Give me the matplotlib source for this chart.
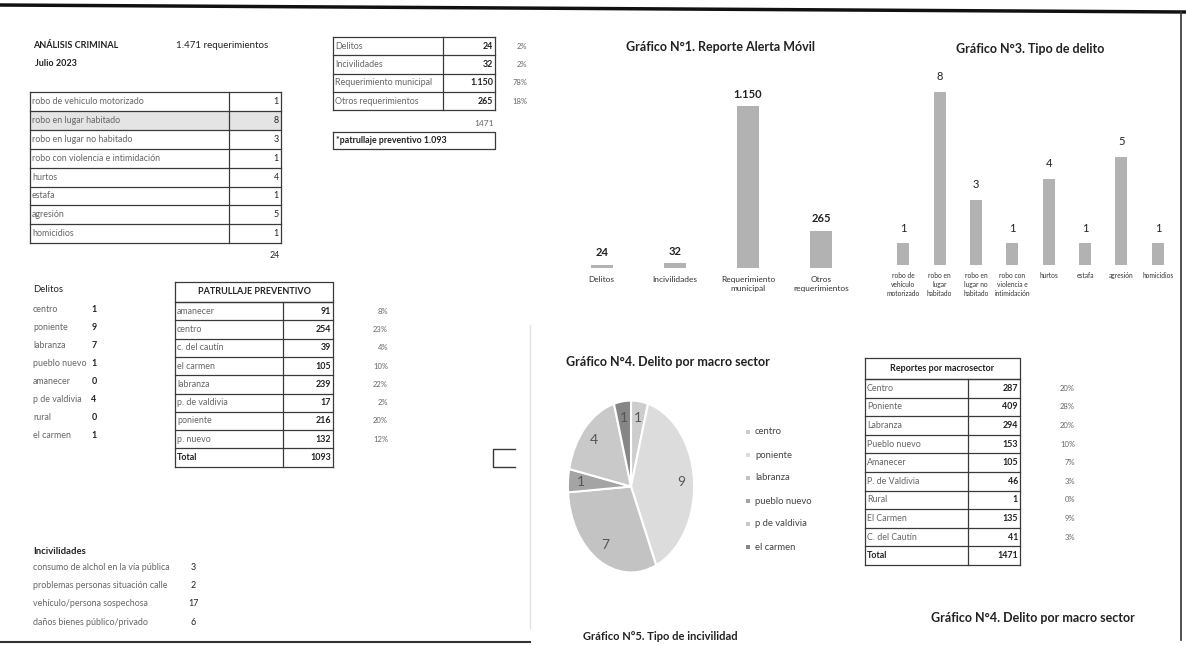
import matplotlib
matplotlib.use('Agg')
import matplotlib.pyplot as plt
from matplotlib.patches import Rectangle

W, H = 1186, 645

req_tipos = ['Delitos', 'Incivilidades', 'Requerimiento municipal', 'Otros requerimientos']
req_cant = [24, 32, 1150, 265]
req_pct = ['2%', '2%', '78%', '18%']
req_ticks = ['Delitos', 'Incivilidades', 'Requerimiento\nmunicipal', 'Otros\nrequerimientos']

delito_tipos = ['robo de vehiculo motorizado', 'robo en lugar habitado', 'robo en lugar no habitado',
                'robo con violencia e intimidación', 'hurtos', 'estafa', 'agresión', 'homicidios']
delito_cant = [1, 8, 3, 1, 4, 1, 5, 1]
delito_ticks = ['robo de\nvehículo\nmotorizado', 'robo en\nlugar\nhabitado', 'robo en\nlugar no\nhabitado',
                'robo con\nviolencia e\nintimidación', 'hurtos', 'estafa', 'agresión', 'homicidios']

sector_delitos = ['centro', 'poniente', 'labranza', 'pueblo nuevo', 'amanecer', 'p de valdivia', 'rural', 'el carmen']
sector_delitos_cant = [1, 9, 7, 1, 0, 4, 0, 1]

pie_sectores = ['centro', 'poniente', 'labranza', 'pueblo nuevo', 'p de valdivia', 'el carmen']
pie_cant = [1, 9, 7, 1, 4, 1]
pie_colores = ['#cdcdcd', '#dcdcdc', '#c3c3c3', '#a4a4a4', '#c9c9c9', '#868686']

patrullaje_sector = ['amanecer', 'centro', 'c. del cautín', 'el carmen', 'labranza', 'p. de valdivia', 'poniente', 'p. nuevo']
patrullaje_cant = [91, 254, 39, 105, 239, 17, 216, 132]
patrullaje_pct = ['8%', '23%', '4%', '10%', '22%', '2%', '20%', '12%']

macro_sector = ['Centro', 'Poniente', 'Labranza', 'Pueblo nuevo', 'Amanecer', 'P. de Valdivia', 'Rural', 'El Carmen', 'C. del Cautín']
macro_cant = [287, 409, 294, 153, 105, 46, 1, 135, 41]
macro_pct = ['20%', '28%', '20%', '10%', '7%', '3%', '0%', '9%', '3%']

incivilidades = ['consumo de alchol en la vía pública', 'problemas personas situación calle',
                 'vehículo/persona sospechosa', 'daños bienes público/privado']
incivilidades_cant = [3, 2, 17, 6]

plt.rcParams['font.family'] = ['Lato', 'DejaVu Sans']

TXT = '#666666'
DARK = '#222222'
LINE = '#3a3a3a'
BAR = '#b2b2b2'


def miles(v):
    return f'{v:,}'.replace(',', '.')


def px_axes(fig, left, top, right, bottom):
    return fig.add_axes([left / W, 1 - bottom / H, (right - left) / W, (bottom - top) / H])


def tabla(ax, x0, xs, x1, top, row_h, labels, values, bold_vals=False, shade=None,
          total=None, header=None, header_h=0):
    y = top
    if header is not None:
        ax.plot([x0, x1, x1, x0, x0], [y, y, y + header_h, y + header_h, y], color=LINE, lw=0.9)
        ax.text((x0 + x1) / 2, y + header_h / 2, header, ha='center', va='center',
                fontsize=6.5, fontweight='bold', color=DARK)
        y += header_h
    filas = list(zip(labels, values))
    if total is not None:
        filas.append(total)
    for i, (lab, val) in enumerate(filas):
        yt = y + i * row_h
        if shade is not None and i == shade:
            ax.add_patch(Rectangle((x0, yt), x1 - x0, row_h, color='#e4e4e4', lw=0))
        es_total = total is not None and i == len(filas) - 1
        ax.text(x0 + 2, yt + row_h / 2, lab, ha='left', va='center', fontsize=6.4,
                color=DARK if es_total else TXT, fontweight='bold' if es_total else 'normal')
        ax.text(x1 - 2, yt + row_h / 2, val, ha='right', va='center', fontsize=6.4,
                color=DARK, fontweight='bold' if (bold_vals or es_total) else 'normal')
        ax.plot([x0, x1], [yt, yt], color=LINE, lw=0.9)
    yb = y + len(filas) * row_h
    ax.plot([x0, x1], [yb, yb], color=LINE, lw=0.9)
    ax.plot([x0, x0], [y, yb], color=LINE, lw=0.9)
    ax.plot([x1, x1], [y, yb], color=LINE, lw=0.9)
    ax.plot([xs, xs], [y, yb], color=LINE, lw=0.9)
    return yb


fig = plt.figure(figsize=(W / 100, H / 100), dpi=100)
ax0 = fig.add_axes([0, 0, 1, 1])
ax0.set_xlim(0, W)
ax0.set_ylim(H, 0)
ax0.axis('off')

# bordes del escaneo
ax0.plot([0, W], [5, 12], color='#111111', lw=2.5)
ax0.plot([1181, 1181], [12, 640], color='#333333', lw=1.2)
ax0.plot([0, 530], [642, 642], color='#333333', lw=1.5)
ax0.plot([530, 530], [325, 628], color='#e2e2e2', lw=1.0)

# cabecera
ax0.text(33, 45, 'ANÁLISIS CRIMINAL', fontsize=6.5, fontweight='bold', color=DARK, va='center')
ax0.text(35, 64, 'Julio 2023', fontsize=6.5, fontweight='bold', color=DARK, va='center')
ax0.text(176, 45, f'{miles(sum(req_cant))} requerimientos', fontsize=7, color=DARK, va='center')

# tabla tipos de delito
tabla(ax0, 30, 229, 281, 92, 18.9, delito_tipos, [str(v) for v in delito_cant], shade=1)
ax0.text(280, 256, str(sum(delito_cant)), ha='right', va='center', fontsize=6.4, color=DARK)

# tabla requerimientos
tabla(ax0, 333, 443, 495, 37, 18.3, req_tipos, [miles(v) for v in req_cant], bold_vals=True)
for i, p in enumerate(req_pct):
    ax0.text(527, 37 + 18.3 * (i + 0.5), p, ha='right', va='center', fontsize=5.5, color=TXT)
ax0.text(494, 124, str(sum(req_cant)), ha='right', va='center', fontsize=6, color=TXT)
ax0.plot([333, 495, 495, 333, 333], [132, 132, 149, 149, 132], color=LINE, lw=0.9)
ax0.text(336, 140.5, f'*patrullaje preventivo {miles(sum(patrullaje_cant))}', fontsize=6.4,
         fontweight='bold', color=DARK, va='center')

# delitos por sector (lista)
ax0.text(33, 290, 'Delitos', fontsize=6.8, color=DARK, va='center')
for i, (s, v) in enumerate(zip(sector_delitos, sector_delitos_cant)):
    ax0.text(33, 309 + 18 * i, s, fontsize=6.4, color=TXT, va='center')
    ax0.text(94, 309 + 18 * i, str(v), fontsize=6.4, color=DARK, fontweight='bold', va='center', ha='center')

# patrullaje preventivo
tabla(ax0, 175, 283, 333, 282, 18.3, patrullaje_sector, [str(v) for v in patrullaje_cant],
      bold_vals=True, header='PATRULLAJE PREVENTIVO', header_h=20,
      total=('Total', str(sum(patrullaje_cant))))
for i, p in enumerate(patrullaje_pct):
    ax0.text(388, 302 + 18.3 * (i + 0.5), p, ha='right', va='center', fontsize=5.5, color=TXT)
ax0.plot([515, 493, 493, 515], [449, 449, 467, 467], color=LINE, lw=1.0)

# incivilidades
ax0.text(33, 552, 'Incivilidades', fontsize=6.8, fontweight='bold', color=DARK, va='center')
for i, (s, v) in enumerate(zip(incivilidades, incivilidades_cant)):
    ax0.text(33, 567 + 18.4 * i, s, fontsize=6.4, color=TXT, va='center')
    ax0.text(193, 567 + 18.4 * i, str(v), fontsize=6.4, color=DARK, va='center', ha='center')

# Gráfico N°1
ax0.text(720, 47, 'Gráfico N°1. Reporte Alerta Móvil', ha='center', va='center',
         fontsize=9, fontweight='bold', color=DARK)
ax1 = px_axes(fig, 565, 71, 858, 268)
x1 = range(len(req_cant))
ax1.bar(x1, req_cant, width=0.3, color=BAR)
for xi, v in zip(x1, req_cant):
    ax1.text(xi, v + 45, miles(v), ha='center', va='bottom', fontsize=8, fontweight='bold', color=DARK)
ax1.set_xlim(-0.5, len(req_cant) - 0.5)
ax1.set_ylim(0, 1400)
ax1.set_xticks(list(x1))
ax1.set_xticklabels(req_ticks, fontsize=6, color='#333333')
ax1.tick_params(length=0, pad=6)
ax1.set_yticks([])
for s in ax1.spines.values():
    s.set_visible(False)
ax1.patch.set_alpha(0)

# Gráfico N°3
ax0.text(1030, 49, 'Gráfico N°3. Tipo de delito', ha='center', va='center',
         fontsize=9, fontweight='bold', color=DARK)
ax3 = px_axes(fig, 885, 49, 1176, 265)
x3 = range(len(delito_cant))
ax3.bar(x3, delito_cant, width=0.33, color=BAR)
for xi, v in zip(x3, delito_cant):
    ax3.text(xi, v + 0.45, str(v), ha='center', va='bottom', fontsize=8, color=DARK)
ax3.set_xlim(-0.5, len(delito_cant) - 0.5)
ax3.set_ylim(0, 10)
ax3.set_xticks(list(x3))
ax3.set_xticklabels(delito_ticks, fontsize=4.8, color='#333333', linespacing=1.3)
ax3.tick_params(length=0, pad=5)
ax3.set_yticks([])
for s in ax3.spines.values():
    s.set_visible(False)
ax3.patch.set_alpha(0)

# Gráfico N°4 (torta)
ax0.text(668, 362, 'Gráfico N°4. Delito por macro sector', ha='center', va='center',
         fontsize=9, fontweight='bold', color=DARK)
ax4 = px_axes(fig, 566, 398, 696, 575)
total_pie = sum(pie_cant)
ax4.pie(pie_cant, colors=pie_colores, startangle=90, counterclock=False,
        wedgeprops=dict(edgecolor='white', linewidth=1.5),
        autopct=lambda p: f'{round(p * total_pie / 100)}', pctdistance=0.8,
        textprops=dict(fontsize=10, color='#555555'))
ax4.set_aspect('auto')
ax4.set_xlim(-1.03, 1.03)
ax4.set_ylim(-1.03, 1.03)
for i, (s, c) in enumerate(zip(pie_sectores, pie_colores)):
    yy = 432 + 23 * i
    ax0.add_patch(Rectangle((746, yy - 2.5), 4, 4, color=c, lw=0))
    ax0.text(755, yy, s, fontsize=6.8, color='#444444', va='center')

# reportes por macrosector
tabla(ax0, 865, 968, 1020, 358, 18.6, macro_sector, [str(v) for v in macro_cant],
      bold_vals=True, header='Reportes por macrosector', header_h=21,
      total=('Total', str(sum(macro_cant))))
for i, p in enumerate(macro_pct):
    ax0.text(1075, 379 + 18.6 * (i + 0.5), p, ha='right', va='center', fontsize=5.5, color=TXT)
ax0.text(1033, 618, 'Gráfico N°4. Delito por macro sector', ha='center', va='center',
         fontsize=9, fontweight='bold', color=DARK)
ax0.text(660, 637, 'Gráfico N°5. Tipo de incivilidad', ha='center', va='center',
         fontsize=8, fontweight='bold', color=DARK)

fig.savefig('out.png', dpi=100)
